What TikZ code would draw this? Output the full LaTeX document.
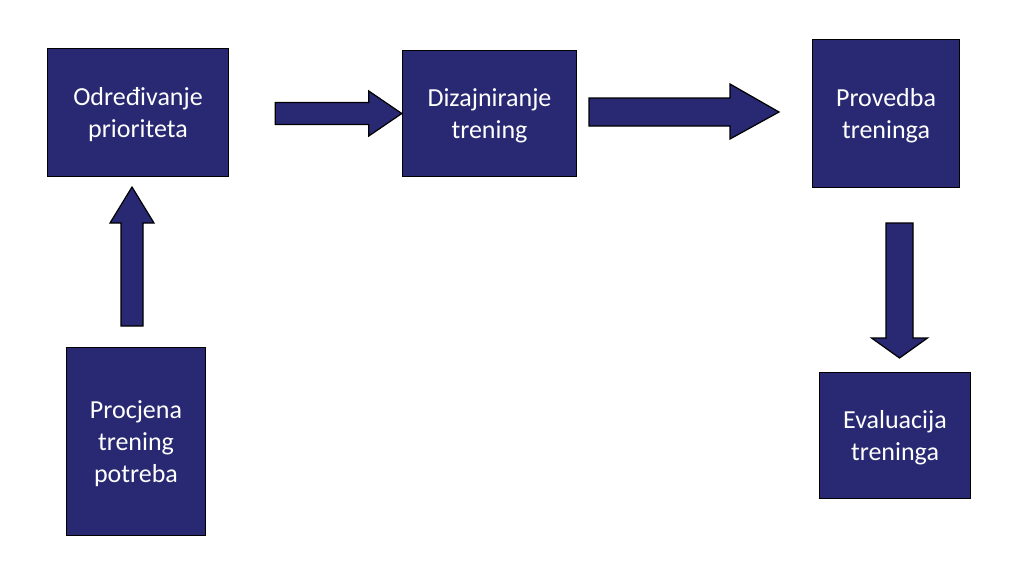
\documentclass[tikz,border=0pt]{standalone}
\usepackage{fontspec}
\setmainfont{Carlito}
\definecolor{boxblue}{HTML}{282873}
\begin{document}
\begin{tikzpicture}[x=1pt,y=-1pt,
    box/.style={rectangle,fill=boxblue,draw=black,line width=1.4pt,text=white,
        align=center,font=\fontsize{26}{32}\selectfont,inner sep=0pt,text depth=0pt},
    blockarrow/.style={fill=boxblue,draw=black,line width=1.2pt,line join=miter}]

    \useasboundingbox (0,0) rectangle (1014,574);

    \node[box,minimum width=181pt,minimum height=128pt] (prio) at (138,112.5) {Određivanje\\prioriteta};
    \node[box,minimum width=174pt,minimum height=126pt] (diz) at (489.5,113.5) {Dizajniranje\\trening};
    \node[box,minimum width=147pt,minimum height=148pt] (prov) at (886,113.5) {Provedba\\treninga};
    \node[box,minimum width=139pt,minimum height=188pt] (proc) at (136,441.5) {Procjena\\trening\\potreba};
    \node[box,minimum width=151pt,minimum height=126pt] (eval) at (895,435.5) {Evaluacija\\treninga};

    \coordinate (a2) at (589,112);
    \coordinate (a3) at (132,326);
    \coordinate (a4) at (899.5,223);

    % prio -> diz
    \draw[blockarrow] (diz.west) -- ++(-33,-22.5) -- ++(0,11.5) -- ++(-93.5,0)
        -- ++(0,22) -- ++(93.5,0) -- ++(0,11.5) -- cycle;
    % diz -> prov
    \draw[blockarrow] (a2) ++(0,-14) -- ++(141,0) -- ++(0,-14) -- ++(49,28)
        -- ++(-49,27) -- ++(0,-13) -- ++(-141,0) -- cycle;
    % proc -> prio
    \draw[blockarrow] (a3) ++(-11,0) -- ++(0,-103) -- ++(-11,0) -- ++(22,-36)
        -- ++(22,36) -- ++(-11,0) -- ++(0,103) -- cycle;
    % prov -> eval
    \draw[blockarrow] (a4) ++(-13.5,0) -- ++(0,115) -- ++(-14.5,0) -- ++(28,20)
        -- ++(28,-20) -- ++(-14.5,0) -- ++(0,-115) -- cycle;
\end{tikzpicture}
\end{document}
